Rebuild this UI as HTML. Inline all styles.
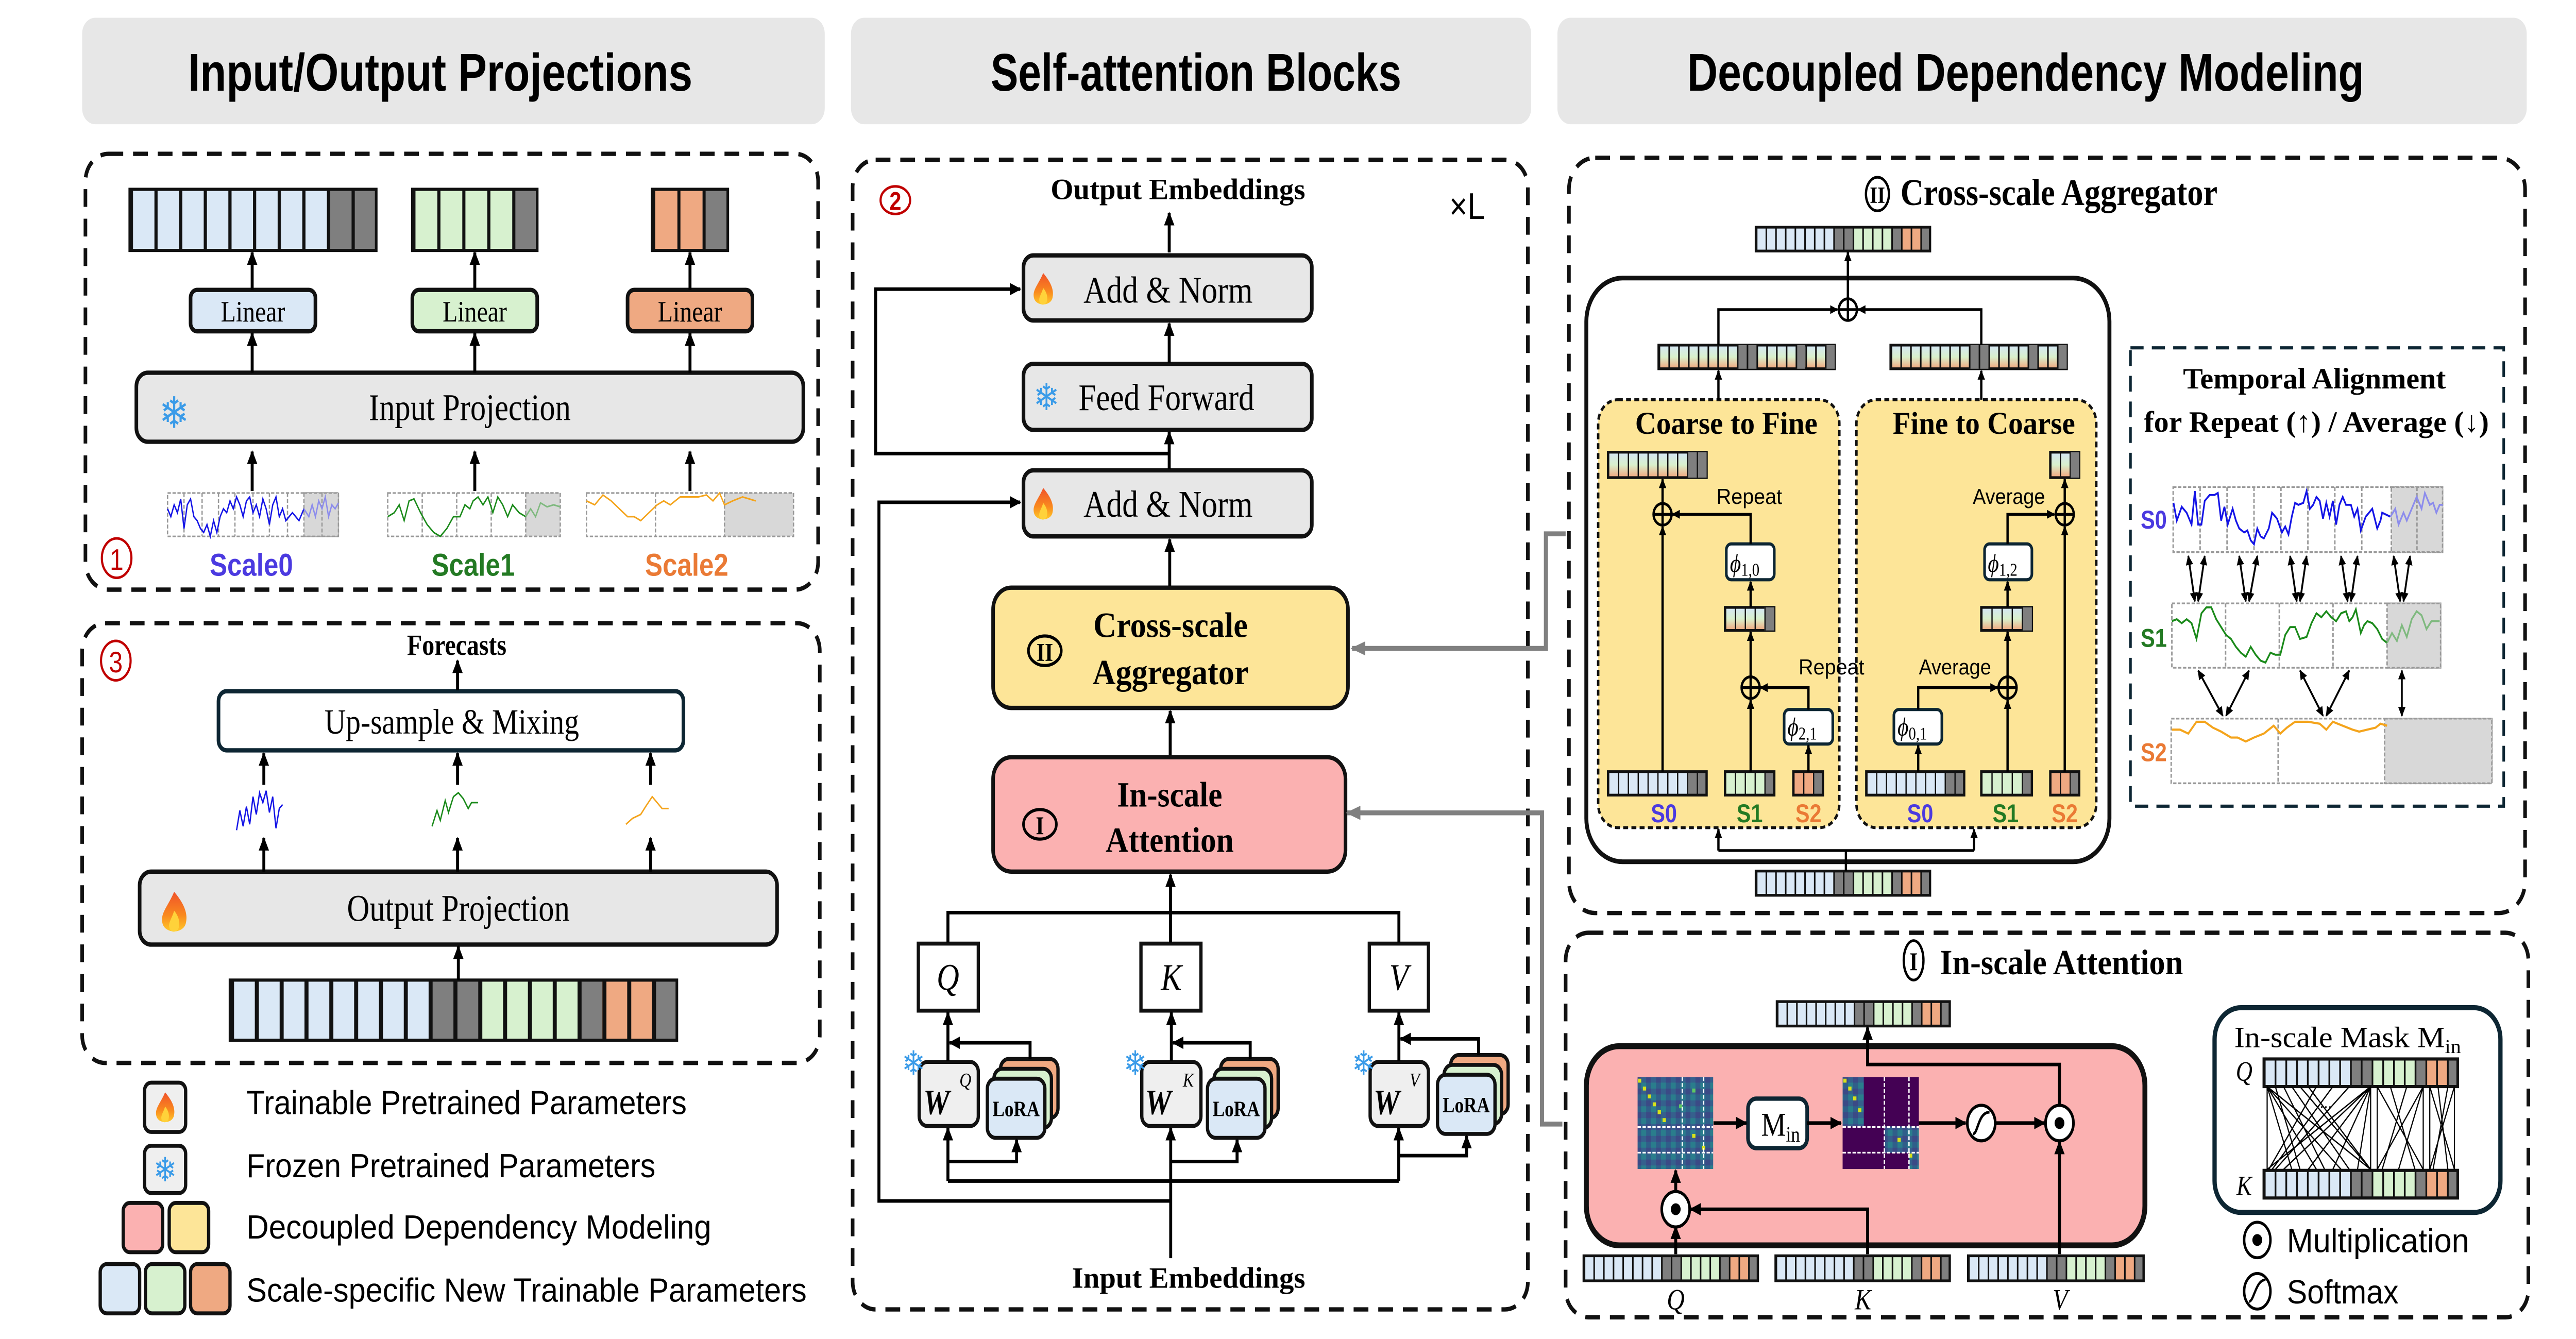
<!DOCTYPE html>
<html><head><meta charset="utf-8"><style>html,body{margin:0;padding:0;background:#fff;width:100%;height:100%;overflow:hidden}svg{display:block;position:absolute;left:0;top:0;width:100vw;height:100vh}</style></head><body>
<svg xmlns="http://www.w3.org/2000/svg" viewBox="0 0 1568 679" preserveAspectRatio="none">
<defs>
<marker id="a" viewBox="0 0 10 10" refX="9" refY="5" markerWidth="7" markerHeight="7" markerUnits="userSpaceOnUse" orient="auto-start-reverse"><path d="M0,0.5 L10,5 L0,9.5 z" fill="#000"/></marker>
<marker id="as" viewBox="0 0 10 10" refX="9" refY="5" markerWidth="5" markerHeight="5" markerUnits="userSpaceOnUse" orient="auto-start-reverse"><path d="M0,0.5 L10,5 L0,9.5 z" fill="#000"/></marker>
<marker id="ag" viewBox="0 0 10 10" refX="9" refY="5" markerWidth="9" markerHeight="9" markerUnits="userSpaceOnUse" orient="auto"><path d="M0,1 L10,5 L0,9 z" fill="#808080"/></marker>
<linearGradient id="g18"><stop offset="0" stop-color="#dae8f6"/><stop offset=".4444" stop-color="#dae8f6"/><stop offset=".4444" stop-color="#7f7f7f"/><stop offset=".5556" stop-color="#7f7f7f"/><stop offset=".5556" stop-color="#d7f1cf"/><stop offset=".7778" stop-color="#d7f1cf"/><stop offset=".7778" stop-color="#7f7f7f"/><stop offset=".8333" stop-color="#7f7f7f"/><stop offset=".8333" stop-color="#efa982"/><stop offset=".9444" stop-color="#efa982"/><stop offset=".9444" stop-color="#7f7f7f"/></linearGradient>
<linearGradient id="gb"><stop offset="0" stop-color="#dae8f6"/><stop offset=".8" stop-color="#dae8f6"/><stop offset=".8" stop-color="#7f7f7f"/></linearGradient>
<linearGradient id="gg"><stop offset="0" stop-color="#d7f1cf"/><stop offset=".8" stop-color="#d7f1cf"/><stop offset=".8" stop-color="#7f7f7f"/></linearGradient>
<linearGradient id="go"><stop offset="0" stop-color="#efa982"/><stop offset=".6667" stop-color="#efa982"/><stop offset=".6667" stop-color="#7f7f7f"/></linearGradient>
<linearGradient id="vg" x1="0" y1="0" x2="0" y2="1"><stop offset="0" stop-color="#d4e6f7"/><stop offset=".5" stop-color="#d9f0cc"/><stop offset="1" stop-color="#f2a57c"/></linearGradient>
<linearGradient id="gy18"><stop offset=".4444" stop-color="#7f7f7f" stop-opacity="0"/><stop offset=".4444" stop-color="#7f7f7f"/><stop offset=".5556" stop-color="#7f7f7f"/><stop offset=".5556" stop-color="#7f7f7f" stop-opacity="0"/><stop offset=".7778" stop-color="#7f7f7f" stop-opacity="0"/><stop offset=".7778" stop-color="#7f7f7f"/><stop offset=".8333" stop-color="#7f7f7f"/><stop offset=".8333" stop-color="#7f7f7f" stop-opacity="0"/><stop offset=".9444" stop-color="#7f7f7f" stop-opacity="0"/><stop offset=".9444" stop-color="#7f7f7f"/></linearGradient>
<linearGradient id="gy10"><stop offset=".8" stop-color="#7f7f7f" stop-opacity="0"/><stop offset=".8" stop-color="#7f7f7f"/></linearGradient>
<linearGradient id="gy3"><stop offset=".6667" stop-color="#7f7f7f" stop-opacity="0"/><stop offset=".6667" stop-color="#7f7f7f"/></linearGradient>
<pattern id="p18" patternUnits="objectBoundingBox" width="0.0555556" height="1" patternContentUnits="objectBoundingBox"><rect width="0.009" height="1" fill="#111"/></pattern>
<pattern id="p10" patternUnits="objectBoundingBox" width="0.1" height="1" patternContentUnits="objectBoundingBox"><rect width="0.013" height="1" fill="#111"/></pattern>
<pattern id="p5" patternUnits="objectBoundingBox" width="0.2" height="1" patternContentUnits="objectBoundingBox"><rect width="0.025" height="1" fill="#111"/></pattern>
<pattern id="p3" patternUnits="objectBoundingBox" width="0.33333" height="1" patternContentUnits="objectBoundingBox"><rect width="0.04" height="1" fill="#111"/></pattern>
<linearGradient id="fl" x1="0" y1="0" x2="0" y2="1"><stop offset="0" stop-color="#f0522a"/><stop offset=".6" stop-color="#f98a1e"/><stop offset="1" stop-color="#ffc829"/></linearGradient>
<g id="flame"><path d="M0,-9 C5,-4 7,0 6,4 C5,9 -5,9 -6,4 C-7,0 -3,-3 0,-9z" fill="url(#fl)"/><path d="M0,-1 C3,2 3,5 2,7 C0,8.5 -2,8 -2.5,6 C-3,4 -1,2 0,-1z" fill="#ffd23a"/></g>
<pattern id="hm" patternUnits="userSpaceOnUse" width="6" height="6"><rect width="6" height="6" fill="#2f5f8a"/><rect width="3" height="3" fill="#3b4a86"/><rect x="3" y="3" width="3" height="3" fill="#2a7d8c"/><rect x="3" width="3" height="3" fill="#35608d"/></pattern>
</defs>

<!-- Headers -->
<rect x="50" y="9" width="452" height="54" rx="8" fill="#e7e7e7"/>
<text x="268" y="46" font-family="Liberation Sans Narrow, Liberation Sans, sans-serif" font-weight="bold" font-size="27" text-anchor="middle" textLength="307" lengthAdjust="spacingAndGlyphs">Input/Output Projections</text>
<rect x="518" y="9" width="414" height="54" rx="8" fill="#e7e7e7"/>
<text x="728" y="46" font-family="Liberation Sans Narrow, Liberation Sans, sans-serif" font-weight="bold" font-size="27" text-anchor="middle" textLength="250" lengthAdjust="spacingAndGlyphs">Self-attention Blocks</text>
<rect x="948" y="9" width="590" height="54" rx="8" fill="#e7e7e7"/>
<text x="1233" y="46" font-family="Liberation Sans Narrow, Liberation Sans, sans-serif" font-weight="bold" font-size="27" text-anchor="middle" textLength="412" lengthAdjust="spacingAndGlyphs">Decoupled Dependency Modeling</text>

<g fill="none" stroke="#111" stroke-width="2.2" stroke-dasharray="9 6">
<rect x="52" y="78" width="446" height="221" rx="14"/>
<rect x="50" y="316" width="449" height="223" rx="14"/>
<rect x="519" y="81" width="411" height="583" rx="14"/>
<rect x="955" y="80" width="582" height="383" rx="16"/>
<rect x="953" y="473" width="586" height="195" rx="14"/>
</g>

<!-- Panel 1 -->
<g stroke="#111" stroke-width="1.6">
<rect x="79" y="96" width="150" height="31" fill="url(#gb)"/><rect x="79" y="96" width="150" height="31" fill="url(#p10)" stroke="none"/>
<rect x="251" y="96" width="76" height="31" fill="url(#gg)"/><rect x="251" y="96" width="76" height="31" fill="url(#p5)" stroke="none"/>
<rect x="397" y="96" width="46" height="31" fill="url(#go)"/><rect x="397" y="96" width="46" height="31" fill="url(#p3)" stroke="none"/>
</g>
<g stroke="#111" stroke-width="2.2">
<rect x="116" y="147" width="76" height="21" rx="4" fill="#dae8f6"/>
<rect x="251" y="147" width="76" height="21" rx="4" fill="#d7f1cf"/>
<rect x="382" y="147" width="76" height="21" rx="4" fill="#efa982"/>
<rect x="83" y="189" width="406" height="35" rx="7" fill="#e7e7e7"/>
</g>
<g font-family="Liberation Serif, serif" font-size="15" text-anchor="middle">
<text x="154" y="163">Linear</text><text x="289" y="163">Linear</text><text x="420" y="163">Linear</text>
<text x="286" y="213" font-size="19">Input Projection</text></g>
<text x="106" y="217" font-size="22" fill="#3a9be8" text-anchor="middle" font-family="DejaVu Sans, sans-serif">❄</text>
<g stroke="#000" stroke-width="1.8" marker-end="url(#a)">
<line x1="153.5" y1="147" x2="153.5" y2="128"/><line x1="289" y1="147" x2="289" y2="128"/><line x1="420" y1="147" x2="420" y2="128"/>
<line x1="153.5" y1="189" x2="153.5" y2="169"/><line x1="289" y1="189" x2="289" y2="169"/><line x1="420" y1="189" x2="420" y2="169"/>
<line x1="153.5" y1="249" x2="153.5" y2="229"/><line x1="289" y1="249" x2="289" y2="229"/><line x1="420" y1="249" x2="420" y2="229"/>
</g>
<!-- charts -->
<g stroke="#999" stroke-width="0.8" stroke-dasharray="2 1" fill="#fff">
<rect x="102" y="250" width="104" height="22"/><rect x="185" y="250" width="21" height="22" fill="#d8d8d8"/>
<rect x="236" y="250" width="105" height="22"/><rect x="320" y="250" width="21" height="22" fill="#d8d8d8"/>
<rect x="357" y="250" width="126" height="22"/><rect x="441" y="250" width="42" height="22" fill="#d8d8d8"/>
<path d="M112,250V272M123,250V272M133,250V272M143,250V272M154,250V272M164,250V272M175,250V272M196,250V272M257,250V272M278,250V272M299,250V272M399,250V272" fill="none"/>
</g>
<polyline fill="none" stroke="#1414e6" stroke-width="0.8" points="102,258 104,262 106,256 108,260 110,253 112,268 114,256 116,253 118,262 120,264 122,268 124,270 126,266 128,272 130,264 132,270 134,262 136,258 138,260 140,254 142,258 144,252 146,256 148,262 150,254 152,252 154,260 156,256 158,262 160,253 162,258 164,266 166,256 168,252 170,262 172,258 174,264 178,260 182,264 185,258"/>
<polyline fill="none" stroke="#8c8cec" stroke-width="0.8" points="185,258 188,262 190,256 192,262 194,254 196,258 198,252 200,262 202,256 204,258 206,255"/>
<polyline fill="none" stroke="#1a8a1a" stroke-width="0.8" points="236,262 240,260 243,256 246,264 249,254 252,253 256,260 260,266 264,270 268,272 272,268 276,262 280,262 283,256 286,258 288,254 291,252 294,256 297,252 300,260 303,252 306,256 309,262 312,256 316,260 320,262"/>
<polyline fill="none" stroke="#7fb97f" stroke-width="0.8" points="320,262 323,258 326,262 329,255 333,257 337,256 341,257"/>
<polyline fill="none" stroke="#f4a41c" stroke-width="0.8" points="357,254 362,256 367,251 372,254 377,258 382,262 386,262 390,264 395,260 400,256 404,254 408,256 414,252 420,252 425,252 430,251 434,254 438,250 441,256 446,254 452,252 456,253 460,254"/>
<g font-family="Liberation Sans Narrow, Liberation Sans, sans-serif" font-weight="bold" font-size="16" text-anchor="middle">
<text x="153" y="292" fill="#4b3ae0">Scale0</text><text x="288" y="292" fill="#237a23">Scale1</text><text x="418" y="292" fill="#ea7a35">Scale2</text></g>
<ellipse cx="71" cy="283" rx="9" ry="10" fill="none" stroke="#c00000" stroke-width="1.3"/><text x="71" y="289" font-family="Liberation Sans, sans-serif" font-size="15" fill="#c00000" text-anchor="middle">1</text>

<!-- Panel 3 -->
<ellipse cx="70.5" cy="335" rx="9" ry="10" fill="none" stroke="#c00000" stroke-width="1.3"/><text x="70.5" y="341" font-family="Liberation Sans, sans-serif" font-size="15" fill="#c00000" text-anchor="middle">3</text>
<text x="278" y="332" font-family="Liberation Serif, serif" font-weight="bold" font-size="15" text-anchor="middle">Forecasts</text>
<rect x="133" y="350.5" width="283" height="30" rx="5" fill="#fff" stroke="#0d2633" stroke-width="2.2"/>
<text x="275" y="372" font-family="Liberation Serif, serif" font-size="18" text-anchor="middle">Up-sample &amp; Mixing</text>
<rect x="85" y="442" width="388" height="37" rx="7" fill="#e7e7e7" stroke="#111" stroke-width="2.2"/>
<text x="279" y="467" font-family="Liberation Serif, serif" font-size="19" text-anchor="middle">Output Projection</text>
<use href="#flame" transform="translate(106,463) scale(1.2)"/>
<g stroke="#111" stroke-width="1.6"><rect x="140" y="497" width="272" height="30.5" fill="url(#g18)"/><rect x="140" y="497" width="272" height="30.5" fill="url(#p18)" stroke="none"/></g>
<g stroke="#000" stroke-width="1.8" marker-end="url(#a)">
<line x1="278.5" y1="350" x2="278.5" y2="335"/>
<line x1="160.6" y1="398" x2="160.6" y2="382"/><line x1="278.5" y1="398" x2="278.5" y2="382"/><line x1="396" y1="398" x2="396" y2="382"/>
<line x1="160.6" y1="442" x2="160.6" y2="425"/><line x1="278.5" y1="442" x2="278.5" y2="425"/><line x1="396" y1="442" x2="396" y2="425"/>
<line x1="279" y1="497" x2="279" y2="480"/>
</g>
<polyline fill="none" stroke="#1414e6" stroke-width="0.8" points="144,421 146,411 148,419 150,409 152,418 154,404 156,413 158,402 160,407 162,401 164,412 166,404 168,420 170,410 172,408"/>
<polyline fill="none" stroke="#1a8a1a" stroke-width="0.8" points="263,419 266,411 268,416 271,406 273,412 276,404 279,402 282,405 285,410 287,407 291,407"/>
<polyline fill="none" stroke="#f4a41c" stroke-width="0.8" points="381,418 385,415 390,413 393,409 397,404 401,408 403,410 407,410"/>

<!-- Legend -->
<g stroke="#111" stroke-width="2">
<rect x="88" y="549" width="25" height="25" rx="4" fill="#efefef"/>
<rect x="88" y="581" width="25" height="24" rx="4" fill="#efefef"/>
<rect x="75" y="610" width="24" height="25" rx="4" fill="#fbb1b1"/><rect x="103" y="610" width="24" height="25" rx="4" fill="#fde598"/>
<rect x="61" y="641" width="24" height="25" rx="4" fill="#dae8f6"/><rect x="88.5" y="641" width="24" height="25" rx="4" fill="#d7f1cf"/><rect x="116" y="641" width="24" height="25" rx="4" fill="#efa982"/>
</g>
<use href="#flame" transform="translate(100.5,562) scale(0.9)"/>
<text x="100.5" y="599" font-size="17" fill="#3a9be8" text-anchor="middle" font-family="DejaVu Sans, sans-serif">❄</text>
<g font-family="Liberation Sans Narrow, Liberation Sans, sans-serif" font-size="17">
<text x="150" y="565" textLength="268" lengthAdjust="spacingAndGlyphs">Trainable Pretrained Parameters</text>
<text x="150" y="597" textLength="249" lengthAdjust="spacingAndGlyphs">Frozen Pretrained Parameters</text>
<text x="150" y="628" textLength="283" lengthAdjust="spacingAndGlyphs">Decoupled Dependency Modeling</text>
<text x="150" y="660" textLength="341" lengthAdjust="spacingAndGlyphs">Scale-specific New Trainable  Parameters</text>
</g>

<!-- Middle panel -->
<ellipse cx="545" cy="101.5" rx="9" ry="7" fill="none" stroke="#c00000" stroke-width="1.3"/><text x="545" y="106.5" font-family="Liberation Sans, sans-serif" font-size="13" font-weight="bold" fill="#c00000" text-anchor="middle">2</text>
<text x="893" y="111" font-family="Liberation Sans, sans-serif" font-size="19" text-anchor="middle">×L</text>
<g font-family="Liberation Serif, serif" font-weight="bold" font-size="15" text-anchor="middle">
<text x="717" y="101" textLength="155" lengthAdjust="spacingAndGlyphs">Output Embeddings</text>
<text x="723.5" y="653" textLength="142" lengthAdjust="spacingAndGlyphs">Input Embeddings</text></g>
<g stroke="#111" stroke-width="2.2" fill="#e7e7e7">
<rect x="623" y="129.5" width="175.5" height="33" rx="6"/>
<rect x="623" y="184.5" width="175.5" height="33.5" rx="6"/>
<rect x="623" y="238.5" width="175.5" height="33.5" rx="6"/>
<rect x="604.5" y="298" width="216" height="61" rx="11" fill="#fde598"/>
<rect x="604.5" y="384" width="214.5" height="58" rx="11" fill="#fbb1b1"/>
</g>
<g font-family="Liberation Serif, serif" font-size="19" text-anchor="middle">
<text x="711" y="153.5" textLength="103" lengthAdjust="spacingAndGlyphs">Add &amp; Norm</text>
<text x="710" y="208" textLength="107" lengthAdjust="spacingAndGlyphs">Feed Forward</text>
<text x="711" y="262" textLength="103" lengthAdjust="spacingAndGlyphs">Add &amp; Norm</text>
</g>
<use href="#flame" transform="translate(635,147) scale(0.95)"/><use href="#flame" transform="translate(635,256) scale(0.95)"/>
<text x="637" y="208" font-size="19" fill="#3a9be8" text-anchor="middle" font-family="DejaVu Sans, sans-serif">❄</text>
<g font-family="Liberation Serif, serif" font-weight="bold" font-size="18" text-anchor="middle">
<text x="712.5" y="323" textLength="94" lengthAdjust="spacingAndGlyphs">Cross-scale</text>
<text x="712.5" y="347" textLength="95" lengthAdjust="spacingAndGlyphs">Aggregator</text>
<text x="712" y="409" textLength="64" lengthAdjust="spacingAndGlyphs">In-scale</text>
<text x="712" y="432" textLength="78" lengthAdjust="spacingAndGlyphs">Attention</text></g>
<ellipse cx="636" cy="330" rx="10" ry="7.5" fill="none" stroke="#000" stroke-width="1.6"/><text x="636" y="335" font-family="Liberation Serif, serif" font-weight="bold" font-size="13" text-anchor="middle">II</text>
<ellipse cx="633" cy="418" rx="10" ry="7.5" fill="none" stroke="#000" stroke-width="1.6"/><text x="633" y="423" font-family="Liberation Serif, serif" font-weight="bold" font-size="13" text-anchor="middle">I</text>
<g fill="#fff" stroke="#111" stroke-width="2"><rect x="559" y="478.5" width="36.5" height="34"/><rect x="694.5" y="478.5" width="36.5" height="34"/><rect x="833.5" y="478.5" width="36" height="34"/></g>
<g font-family="Liberation Serif, serif" font-style="italic" font-size="19" text-anchor="middle"><text x="577" y="502">Q</text><text x="713" y="502">K</text><text x="851.5" y="502">V</text></g>
<!-- W and LoRA -->
<g stroke="#111" stroke-width="2">
<rect x="559.5" y="538.5" width="36" height="32.5" rx="5" fill="#efefef"/><rect x="695" y="538.5" width="36" height="32.5" rx="5" fill="#efefef"/><rect x="834" y="538.5" width="35.5" height="32.5" rx="5" fill="#efefef"/>
<rect x="609" y="537" width="35" height="30" rx="5" fill="#efa982"/><rect x="605" y="542" width="35" height="30" rx="5" fill="#d7f1cf"/><rect x="601" y="547" width="35" height="30" rx="5" fill="#dae8f6"/>
<rect x="743" y="537" width="35" height="30" rx="5" fill="#efa982"/><rect x="739" y="542" width="35" height="30" rx="5" fill="#d7f1cf"/><rect x="735" y="547" width="35" height="30" rx="5" fill="#dae8f6"/>
<rect x="883" y="535" width="35" height="30" rx="5" fill="#efa982"/><rect x="879" y="540" width="35" height="30" rx="5" fill="#d7f1cf"/><rect x="875" y="545" width="35" height="30" rx="5" fill="#dae8f6"/>
</g>
<g font-family="Liberation Serif, serif" font-weight="bold" font-size="11" text-anchor="middle"><text x="618.5" y="566">LoRA</text><text x="752.5" y="566">LoRA</text><text x="892.5" y="564">LoRA</text></g>
<g font-family="Liberation Serif, serif" font-weight="bold" font-style="italic" font-size="18"><text x="562" y="565">W</text><text x="697" y="565">W</text><text x="836" y="565">W</text></g>
<g font-family="Liberation Serif, serif" font-style="italic" font-size="10"><text x="584" y="551">Q</text><text x="720" y="551">K</text><text x="858" y="551">V</text></g>
<g font-size="17" fill="#3a9be8" text-anchor="middle" font-family="DejaVu Sans, sans-serif"><text x="556" y="545">❄</text><text x="691" y="545">❄</text><text x="830" y="545">❄</text></g>
<g fill="none" stroke="#000" stroke-width="1.8">
<line x1="711.7" y1="128" x2="711.7" y2="108" marker-end="url(#a)"/>
<line x1="711.7" y1="184" x2="711.7" y2="164" marker-end="url(#a)"/>
<line x1="711.7" y1="238" x2="711.7" y2="219" marker-end="url(#a)"/>
<polyline points="711.7,230 533,230 533,146.6 621,146.6" marker-end="url(#a)"/>
<polyline points="712.6,609 535,609 535,254.7 621,254.7" marker-end="url(#a)"/>
<line x1="712" y1="297" x2="712" y2="273.5" marker-end="url(#a)"/>
<line x1="712.3" y1="383" x2="712.3" y2="360.5" marker-end="url(#a)"/>
<line x1="712.5" y1="478" x2="712.5" y2="443.5" marker-end="url(#a)"/>
<polyline points="577,478 577,462.8 851.5,462.8 851.5,478"/>
<line x1="577" y1="538" x2="577" y2="513.5" marker-end="url(#a)"/><line x1="713" y1="538" x2="713" y2="513.5" marker-end="url(#a)"/><line x1="851.5" y1="538" x2="851.5" y2="513.5" marker-end="url(#a)"/>
<polyline points="627,537 627,528.8 578,528.8" marker-end="url(#a)"/><polyline points="761,537 761,528.8 714,528.8" marker-end="url(#a)"/><polyline points="900,535 900,526.8 852.5,526.8" marker-end="url(#a)"/>
<line x1="712.6" y1="638" x2="712.6" y2="572" marker-end="url(#a)"/>
<polyline points="577,598.9 851.4,598.9"/>
<line x1="577" y1="598.9" x2="577" y2="572" marker-end="url(#a)"/><line x1="851.4" y1="598.9" x2="851.4" y2="572" marker-end="url(#a)"/>
<polyline points="577,589 618.8,589 618.8,578" marker-end="url(#a)"/><polyline points="712.6,589 753,589 753,578" marker-end="url(#a)"/><polyline points="851.4,586 892.7,586 892.7,576" marker-end="url(#a)"/>
</g>
<!-- gray connectors -->
<g fill="none" stroke="#808080" stroke-width="2.5">
<polyline points="953,270.7 941,270.7 941,328.8 823,328.8" marker-end="url(#ag)"/>
<polyline points="951,570 938.6,570 938.6,412.2 820,412.2" marker-end="url(#ag)"/>
</g>

<!-- Cross-scale aggregator -->
<ellipse cx="1142.8" cy="98.4" rx="7" ry="8.5" fill="none" stroke="#000" stroke-width="1.4"/><text x="1142.8" y="103" font-family="Liberation Serif, serif" font-weight="bold" font-size="12" text-anchor="middle">II</text>
<text x="1156.8" y="104" font-family="Liberation Serif, serif" font-weight="bold" font-size="19" textLength="193" lengthAdjust="spacingAndGlyphs">Cross-scale Aggregator</text>
<rect x="965.6" y="141" width="318.4" height="296" rx="22" fill="#fff" stroke="#111" stroke-width="2.4"/>
<g fill="#fde598" stroke="#111" stroke-width="1.5" stroke-dasharray="3 2">
<rect x="972.8" y="202.7" width="146.8" height="217" rx="12"/><rect x="1130" y="202.7" width="146" height="217" rx="12"/></g>
<g font-family="Liberation Serif, serif" font-weight="bold" font-size="16" text-anchor="middle">
<text x="1050.8" y="220" textLength="111" lengthAdjust="spacingAndGlyphs">Coarse to Fine</text>
<text x="1207.6" y="220" textLength="111" lengthAdjust="spacingAndGlyphs">Fine to Coarse</text></g>
<g stroke="#111" stroke-width="1.4">
<rect x="1068.8" y="115.2" width="106" height="12.1" fill="url(#g18)"/><rect x="1068.8" y="115.2" width="106" height="12.1" fill="url(#p18)" stroke="none"/>
<rect x="1068.8" y="441.7" width="106" height="12.3" fill="url(#g18)"/><rect x="1068.8" y="441.7" width="106" height="12.3" fill="url(#p18)" stroke="none"/>
<rect x="1009.6" y="175" width="107.2" height="12" fill="url(#vg)"/><rect x="1009.6" y="175" width="107.2" height="12" fill="url(#gy18)" stroke="none"/><rect x="1009.6" y="175" width="107.2" height="12" fill="url(#p18)" stroke="none"/>
<rect x="1150.8" y="175" width="107.2" height="12" fill="url(#vg)"/><rect x="1150.8" y="175" width="107.2" height="12" fill="url(#gy18)" stroke="none"/><rect x="1150.8" y="175" width="107.2" height="12" fill="url(#p18)" stroke="none"/>
<rect x="978.8" y="229.3" width="60" height="12.9" fill="url(#vg)"/><rect x="978.8" y="229.3" width="60" height="12.9" fill="url(#gy10)" stroke="none"/><rect x="978.8" y="229.3" width="60" height="12.9" fill="url(#p10)" stroke="none"/>
<rect x="1050" y="308" width="30" height="11.7" fill="url(#vg)"/><rect x="1050" y="308" width="30" height="11.7" fill="url(#gy10)" stroke="none"/><rect x="1050" y="308" width="30" height="11.7" fill="url(#p5)" stroke="none"/>
<rect x="1248" y="229.3" width="17.6" height="12.9" fill="url(#vg)"/><rect x="1248" y="229.3" width="17.6" height="12.9" fill="url(#gy3)" stroke="none"/><rect x="1248" y="229.3" width="17.6" height="12.9" fill="url(#p3)" stroke="none"/>
<rect x="1206" y="308" width="30.8" height="11.7" fill="url(#vg)"/><rect x="1206" y="308" width="30.8" height="11.7" fill="url(#gy10)" stroke="none"/><rect x="1206" y="308" width="30.8" height="11.7" fill="url(#p5)" stroke="none"/>
<rect x="978.8" y="391.3" width="60" height="11.9" fill="url(#gb)"/><rect x="978.8" y="391.3" width="60" height="11.9" fill="url(#p10)" stroke="none"/>
<rect x="1050" y="391.3" width="30" height="11.9" fill="url(#gg)"/><rect x="1050" y="391.3" width="30" height="11.9" fill="url(#p5)" stroke="none"/>
<rect x="1091.6" y="391.3" width="18" height="11.9" fill="url(#go)"/><rect x="1091.6" y="391.3" width="18" height="11.9" fill="url(#p3)" stroke="none"/>
<rect x="1136" y="391.3" width="59.6" height="11.9" fill="url(#gb)"/><rect x="1136" y="391.3" width="59.6" height="11.9" fill="url(#p10)" stroke="none"/>
<rect x="1206" y="391.3" width="30.8" height="11.9" fill="url(#gg)"/><rect x="1206" y="391.3" width="30.8" height="11.9" fill="url(#p5)" stroke="none"/>
<rect x="1248" y="391.3" width="17.6" height="11.9" fill="url(#go)"/><rect x="1248" y="391.3" width="17.6" height="11.9" fill="url(#p3)" stroke="none"/>
</g>
<g fill="#fff" stroke="#0d2633" stroke-width="1.6">
<rect x="1050.8" y="275.8" width="29.2" height="18.2" rx="3"/><rect x="1086" y="359.8" width="29.6" height="17.5" rx="3"/>
<rect x="1208" y="275.8" width="28.8" height="18.2" rx="3"/><rect x="1152.8" y="359.8" width="29.2" height="17.5" rx="3"/></g>
<g font-family="Liberation Serif, serif" font-style="italic" font-size="13"><text x="1053" y="290">ϕ<tspan font-size="9" font-style="normal" dy="2">1,0</tspan></text><text x="1088" y="373">ϕ<tspan font-size="9" font-style="normal" dy="2">2,1</tspan></text><text x="1210" y="290">ϕ<tspan font-size="9" font-style="normal" dy="2">1,2</tspan></text><text x="1155" y="373">ϕ<tspan font-size="9" font-style="normal" dy="2">0,1</tspan></text></g>
<g font-family="Liberation Sans Narrow, Liberation Sans, sans-serif" font-size="11"><text x="1044.8" y="255.5" textLength="40" lengthAdjust="spacingAndGlyphs">Repeat</text><text x="1094.8" y="342" textLength="40" lengthAdjust="spacingAndGlyphs">Repeat</text><text x="1200.8" y="255.5" textLength="44" lengthAdjust="spacingAndGlyphs">Average</text><text x="1168" y="342" textLength="44" lengthAdjust="spacingAndGlyphs">Average</text></g>
<g font-family="Liberation Sans Narrow, Liberation Sans, sans-serif" font-weight="bold" font-size="13" text-anchor="middle">
<text x="1012.8" y="417" fill="#4b3ae0">S0</text><text x="1065" y="417" fill="#237a23">S1</text><text x="1100.8" y="417" fill="#ea7a35">S2</text>
<text x="1168.8" y="417" fill="#4b3ae0">S0</text><text x="1220.8" y="417" fill="#237a23">S1</text><text x="1256.8" y="417" fill="#ea7a35">S2</text></g>
<g fill="none" stroke="#000" stroke-width="1.4">
<circle cx="1124.8" cy="157" r="5.5"/><path d="M1119.3,157h11M1124.8,151.5v11"/>
<circle cx="1012" cy="260.8" r="5.5"/><path d="M1006.5,260.8h11M1012,255.3v11"/>
<circle cx="1065.6" cy="348.7" r="5.5"/><path d="M1060.1,348.7h11M1065.6,343.2v11"/>
<circle cx="1256.8" cy="260.8" r="5.5"/><path d="M1251.3,260.8h11M1256.8,255.3v11"/>
<circle cx="1222" cy="348.7" r="5.5"/><path d="M1216.5,348.7h11M1222,343.2v11"/>
<line x1="1124.8" y1="151" x2="1124.8" y2="128" marker-end="url(#as)"/>
<polyline points="1046,175 1046,157 1118.5,157" marker-end="url(#as)"/><polyline points="1206,175 1206,157 1131,157" marker-end="url(#as)"/>
<line x1="1046" y1="202.7" x2="1046" y2="188" marker-end="url(#as)"/><line x1="1206" y1="202.7" x2="1206" y2="188" marker-end="url(#as)"/>
<line x1="1012" y1="255" x2="1012" y2="243" marker-end="url(#as)"/>
<polyline points="1065.6,275.8 1065.6,260.8 1018,260.8" marker-end="url(#as)"/>
<line x1="1065.6" y1="308" x2="1065.6" y2="295" marker-end="url(#as)"/>
<line x1="1065.6" y1="343" x2="1065.6" y2="320.5" marker-end="url(#as)"/>
<polyline points="1100.8,359.8 1100.8,348.7 1071.5,348.7" marker-end="url(#as)"/>
<line x1="1100.8" y1="391.3" x2="1100.8" y2="378" marker-end="url(#as)"/>
<line x1="1065.6" y1="391.3" x2="1065.6" y2="355" marker-end="url(#as)"/>
<line x1="1012" y1="391.3" x2="1012" y2="267" marker-end="url(#as)"/>
<line x1="1256.8" y1="255" x2="1256.8" y2="243" marker-end="url(#as)"/>
<polyline points="1222,275.8 1222,260.8 1250.5,260.8" marker-end="url(#as)"/>
<line x1="1222" y1="308" x2="1222" y2="295" marker-end="url(#as)"/>
<line x1="1222" y1="343" x2="1222" y2="320.5" marker-end="url(#as)"/>
<polyline points="1167.6,359.8 1167.6,348.7 1216,348.7" marker-end="url(#as)"/>
<line x1="1167.6" y1="391.3" x2="1167.6" y2="378" marker-end="url(#as)"/>
<line x1="1222" y1="391.3" x2="1222" y2="355" marker-end="url(#as)"/>
<line x1="1256.8" y1="391.3" x2="1256.8" y2="267" marker-end="url(#as)"/>
<polyline points="1123.6,441.7 1123.6,431.3"/><polyline points="1046,431.3 1201.6,431.3"/>
<line x1="1046" y1="431.3" x2="1046" y2="420.5" marker-end="url(#as)"/><line x1="1201.6" y1="431.3" x2="1201.6" y2="420.5" marker-end="url(#as)"/>
</g>

<!-- Temporal alignment -->
<rect x="1296.8" y="176.4" width="227.2" height="232.4" fill="none" stroke="#0d2633" stroke-width="1.6" stroke-dasharray="8 5"/>
<g font-family="Liberation Serif, serif" font-weight="bold" font-size="15" text-anchor="middle">
<text x="1408.8" y="197" textLength="160" lengthAdjust="spacingAndGlyphs">Temporal Alignment</text>
<text x="1410" y="219" textLength="210" lengthAdjust="spacingAndGlyphs">for Repeat (↑) / Average (↓)</text></g>
<g stroke="#999" stroke-width="0.9" stroke-dasharray="2 1" fill="#fff">
<rect x="1322.8" y="247" width="164" height="33"/><rect x="1455.6" y="247" width="31.2" height="33" fill="#d8d8d8"/>
<rect x="1322" y="306" width="163.6" height="32.6"/><rect x="1453" y="306" width="32.6" height="32.6" fill="#d8d8d8"/>
<rect x="1321.6" y="364.4" width="195.2" height="32.8"/><rect x="1451.5" y="364.4" width="65.3" height="32.8" fill="#d8d8d8"/>
<path d="M1339.2,247V280M1355.6,247V280M1372,247V280M1388.4,247V280M1404.8,247V280M1421.2,247V280M1437.6,247V280M1471.2,247V280M1354.7,306V338.6M1387.4,306V338.6M1420.1,306V338.6M1386.7,364.4V397.2" fill="none"/></g>
<polyline fill="none" stroke="#1414e6" stroke-width="1" points="1323,255 1325,264 1328,257 1331,260 1334,266 1336,249 1338,266 1340,266 1342,254 1345,251 1348,251 1350,250 1352,264 1354,257 1356,266 1359,258 1361,264 1363,268 1366,270 1368,269 1370,274 1372,276 1374,268 1376,272 1378,273 1381,268 1383,260 1386,263 1389,270 1391,267 1393,271 1395,262 1397,255 1399,256 1402,255 1404,249 1406,258 1408,256 1410,252 1412,254 1414,263 1416,255 1418,262 1420,254 1422,266 1424,256 1426,252 1428,256 1431,256 1433,262 1435,258 1437,269 1440,262 1444,258 1447,268 1449,264 1450,260 1455,262"/>
<polyline fill="none" stroke="#8c8cec" stroke-width="1" points="1455,262 1458,258 1460,266 1463,260 1465,264 1468,258 1471,252 1474,258 1476,250 1479,256 1481,255 1483,260 1485,256 1487,256"/>
<polyline fill="none" stroke="#1a8a1a" stroke-width="1" points="1322,315 1325,314 1328,316 1331,314 1334,316 1337,324 1340,311 1343,308 1346,308 1349,314 1352,318 1355,322 1358,324 1361,328 1364,331 1367,333 1370,328 1373,332 1376,335 1379,336 1382,331 1385,332 1388,332 1391,322 1394,318 1397,318 1400,324 1404,323 1407,316 1410,311 1413,313 1416,310 1419,313 1422,315 1425,311 1428,310 1430,315 1432,313 1434,309 1437,321 1439,317 1441,315 1444,316 1447,319 1450,324 1453,326"/>
<polyline fill="none" stroke="#7fb97f" stroke-width="1" points="1453,326 1456,321 1459,325 1462,317 1465,323 1468,314 1471,310 1474,312 1477,319 1480,315 1485,315"/>
<polyline fill="none" stroke="#f4a41c" stroke-width="1.1" points="1322,370 1327,370 1332,372 1337,366 1342,366 1347,369 1352,371 1358,374 1362,374 1367,376 1372,374 1378,372 1384,368 1388,372 1392,369 1397,366 1405,366 1412,367 1416,370 1420,366 1426,368 1432,370 1436,371 1441,370 1446,369 1449,367 1453,368"/>
<g font-family="Liberation Sans Narrow, Liberation Sans, sans-serif" font-weight="bold" font-size="13" text-anchor="middle">
<text x="1311" y="268" fill="#4b3ae0">S0</text><text x="1311" y="328" fill="#237a23">S1</text><text x="1311" y="386" fill="#ea7a35">S2</text></g>
<g stroke="#000" stroke-width="1.1" marker-start="url(#as)" marker-end="url(#as)">
<line x1="1332" y1="282" x2="1336" y2="305"/><line x1="1342" y1="282" x2="1338" y2="305"/>
<line x1="1363" y1="282" x2="1367" y2="305"/><line x1="1374" y1="282" x2="1369" y2="305"/>
<line x1="1394" y1="282" x2="1398" y2="305"/><line x1="1404" y1="282" x2="1400" y2="305"/>
<line x1="1425" y1="282" x2="1429" y2="305"/><line x1="1435" y1="282" x2="1431" y2="305"/>
<line x1="1457" y1="282" x2="1461" y2="305"/><line x1="1467" y1="282" x2="1463" y2="305"/>
<line x1="1338" y1="340" x2="1353" y2="363"/><line x1="1369" y1="340" x2="1355" y2="363"/>
<line x1="1400" y1="340" x2="1414" y2="363"/><line x1="1430" y1="340" x2="1416" y2="363"/>
<line x1="1462" y1="340" x2="1462" y2="363"/>
</g>

<!-- In-scale attention -->
<ellipse cx="1164.8" cy="487" rx="6" ry="10" fill="none" stroke="#000" stroke-width="1.4"/><text x="1164.8" y="492" font-family="Liberation Serif, serif" font-weight="bold" font-size="13" text-anchor="middle">I</text>
<text x="1180.8" y="494" font-family="Liberation Serif, serif" font-weight="bold" font-size="18" textLength="148" lengthAdjust="spacingAndGlyphs">In-scale Attention</text>
<g stroke="#111" stroke-width="1.4">
<rect x="1081.6" y="507.9" width="105.2" height="12.4" fill="url(#g18)"/><rect x="1081.6" y="507.9" width="105.2" height="12.4" fill="url(#p18)" stroke="none"/>
</g>
<rect x="965.6" y="530.5" width="340" height="101" rx="20" fill="#fbb1b1" stroke="#111" stroke-width="3"/>
<g stroke="#111" stroke-width="1.4">
<rect x="964" y="636.8" width="106" height="12.7" fill="url(#g18)"/><rect x="964" y="636.8" width="106" height="12.7" fill="url(#p18)" stroke="none"/>
<rect x="1080.8" y="636.8" width="106" height="12.7" fill="url(#g18)"/><rect x="1080.8" y="636.8" width="106" height="12.7" fill="url(#p18)" stroke="none"/>
<rect x="1198" y="636.8" width="106.8" height="12.7" fill="url(#g18)"/><rect x="1198" y="636.8" width="106.8" height="12.7" fill="url(#p18)" stroke="none"/>
</g>
<g font-family="Liberation Serif, serif" font-style="italic" font-size="15" text-anchor="middle"><text x="1020" y="664">Q</text><text x="1134" y="664">K</text><text x="1254" y="664">V</text></g>
<!-- heatmaps -->
<rect x="996.8" y="546.2" width="46" height="46.6" fill="url(#hm)"/>
<rect x="1121.6" y="546.2" width="46.4" height="46.6" fill="url(#hm)"/>
<g fill="#440154"><rect x="1134.6" y="546.2" width="33.4" height="25"/><rect x="1121.6" y="571.2" width="25.5" height="21.6"/><rect x="1147.1" y="584.6" width="15" height="8.2"/></g>
<g fill="#d8e219"><rect x="997" y="547" width="2" height="2"/><rect x="1000" y="551" width="2" height="2"/><rect x="1003" y="555" width="2" height="2"/><rect x="1006" y="559" width="2" height="2"/><rect x="1009" y="563" width="2" height="2"/><rect x="1012" y="567" width="2" height="2"/><rect x="1030" y="575" width="2" height="2"/><rect x="1036" y="581" width="2" height="2"/><rect x="1122" y="547" width="2" height="2"/><rect x="1125" y="551" width="2" height="2"/><rect x="1128" y="556" width="2" height="2"/><rect x="1131" y="562" width="2" height="2"/><rect x="1155" y="577" width="2" height="2"/><rect x="1162" y="585" width="2" height="2"/><rect x="1022" y="560" width="2" height="2" fill="#5ec962"/><rect x="1030" y="552" width="2" height="2" fill="#5ec962"/></g>
<g stroke="#fff" stroke-width="0.8" stroke-dasharray="2 1"><path d="M996.8,571.5h46M996.8,584.5h46M1024,546.2v46.6M1037,546.2v46.6M1121.6,571.5h46.4M1121.6,584.5h46.4M1147,546.2v46.6M1162,546.2v46.6"/></g>
<rect x="1064" y="557.1" width="36" height="25.1" rx="5" fill="#fff" stroke="#0d2633" stroke-width="2.2"/>
<text x="1072" y="576" font-family="Liberation Serif, serif" font-size="17">M<tspan font-size="11" dy="3">in</tspan></text>
<g fill="none" stroke="#000" stroke-width="1.8">
<line x1="1043" y1="569.5" x2="1063" y2="569.5" marker-end="url(#a)"/>
<line x1="1100" y1="569.5" x2="1120.5" y2="569.5" marker-end="url(#a)"/>
<line x1="1168" y1="569.5" x2="1196.5" y2="569.5" marker-end="url(#a)"/>
<line x1="1215" y1="569.5" x2="1244.5" y2="569.5" marker-end="url(#a)"/>
<polyline points="1253.6,560 1253.6,539.8 1136.8,539.8 1136.8,521" marker-end="url(#a)"/>
<line x1="1253.6" y1="636" x2="1253.6" y2="579" marker-end="url(#a)"/>
<line x1="1020" y1="636" x2="1020" y2="622" marker-end="url(#a)"/>
<line x1="1020" y1="604" x2="1020" y2="593.5" marker-end="url(#a)"/>
<polyline points="1136.8,636 1136.8,613.2 1029,613.2" marker-end="url(#a)"/>
</g>
<g stroke="#000" stroke-width="1.6" fill="#fff">
<ellipse cx="1020" cy="613.2" rx="8.5" ry="9"/><ellipse cx="1253.6" cy="569.5" rx="8.5" ry="9"/><ellipse cx="1206" cy="569.5" rx="8.5" ry="9"/></g>
<circle cx="1020" cy="613.2" r="3" fill="#000"/><circle cx="1253.6" cy="569.5" r="3" fill="#000"/>
<path d="M1201,575 C1204,575 1204,564 1211,564" fill="none" stroke="#000" stroke-width="1.4"/>
<!-- mask box -->
<rect x="1348" y="511" width="174" height="103.8" rx="16" fill="#fff" stroke="#0d2633" stroke-width="2.6"/>
<text x="1360" y="531" font-family="Liberation Serif, serif" font-size="15" textLength="138" lengthAdjust="spacingAndGlyphs">In-scale Mask M<tspan font-size="10" dy="3">in</tspan></text>
<g stroke="#111" stroke-width="1.6">
<rect x="1378" y="537" width="118" height="14" fill="url(#g18)"/><rect x="1378" y="537" width="118" height="14" fill="url(#p18)" stroke="none"/>
<rect x="1378" y="593.5" width="118" height="14" fill="url(#g18)"/><rect x="1378" y="593.5" width="118" height="14" fill="url(#p18)" stroke="none"/>
</g>
<g font-family="Liberation Serif, serif" font-style="italic" font-size="14" text-anchor="middle"><text x="1366" y="548">Q</text><text x="1366" y="606">K</text></g>
<g stroke="#000" stroke-width="0.7">
<path d="M1380,551L1380,593M1380,551L1395,593M1380,551L1410,593M1380,551L1425,593M1380,551L1443,593M1385,551L1400,593M1390,551L1415,593M1395,551L1430,593M1400,551L1443,593M1405,551L1443,593M1443,551L1380,593M1443,551L1390,593M1443,551L1405,593M1443,551L1420,593M1443,551L1435,593M1443,551L1443,593M1430,551L1385,593M1420,551L1383,593M1410,551L1381,593M1447,551L1447,593M1447,551L1475,593M1455,551L1470,593M1465,551L1450,593M1475,551L1447,593M1475,551L1460,593M1475,551L1475,593M1479,551L1479,593M1479,551L1494,593M1484,551L1490,593M1490,551L1481,593M1494,551L1479,593M1494,551L1494,593"/></g>
<text x="1412" y="562" font-family="Liberation Sans, sans-serif" font-size="9">...</text>
<!-- legend right -->
<ellipse cx="1374" cy="628.8" rx="8" ry="9" fill="#fff" stroke="#000" stroke-width="1.5"/><circle cx="1374" cy="628.8" r="3" fill="#000"/>
<ellipse cx="1374" cy="654.8" rx="8" ry="9" fill="#fff" stroke="#000" stroke-width="1.5"/><path d="M1369,660 C1372,660 1373,649 1379,649" fill="none" stroke="#000" stroke-width="1.3"/>
<g font-family="Liberation Sans Narrow, Liberation Sans, sans-serif" font-size="17"><text x="1392" y="635" textLength="111" lengthAdjust="spacingAndGlyphs">Multiplication</text><text x="1392" y="661" textLength="68" lengthAdjust="spacingAndGlyphs">Softmax</text></g>
</svg>
</body></html>
